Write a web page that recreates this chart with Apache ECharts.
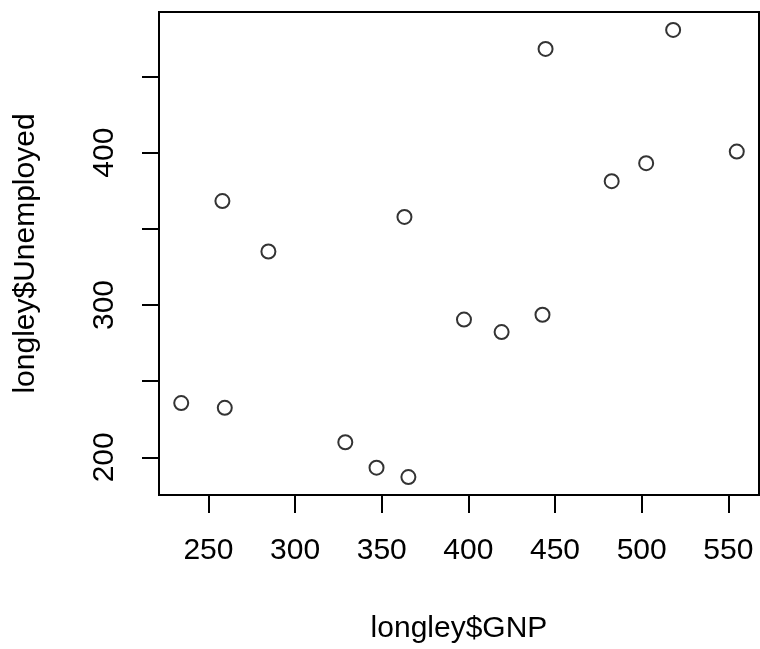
<!DOCTYPE html>
<html>
<head>
<meta charset="utf-8">
<script src="https://cdn.jsdelivr.net/npm/echarts@6/dist/echarts.min.js"></script>
<style>
html,body{margin:0;padding:0;background:#fff;}
#chart{width:760px;height:649px;}
</style>
</head>
<body>
<div id="chart"></div>
<script>
// longley data
var gnp = [234.289, 259.426, 258.054, 284.599, 328.975, 346.999, 365.385, 363.112, 397.469, 419.180, 442.769, 444.546, 482.704, 502.601, 518.173, 554.894];
var unemployed = [235.6, 232.5, 368.2, 335.1, 209.9, 193.2, 187.0, 357.8, 290.4, 282.2, 293.6, 468.1, 381.3, 393.1, 480.6, 400.7];
var xTicks = [250, 300, 350, 400, 450, 500, 550];
var yTicks = [200, 250, 300, 350, 400, 450];
var yTickLabels = [200, 300, 400];
var xTitle = 'longley$GNP';
var yTitle = 'longley$Unemployed';

function pad(arr) {
  var mn = Math.min.apply(null, arr), mx = Math.max.apply(null, arr);
  var d = (mx - mn) * 0.04;
  return [mn - d, mx + d];
}
var xr = pad(gnp), yr = pad(unemployed);
var pts = gnp.map(function (g, i) { return [g, unemployed[i]]; });

var font = "'Liberation Sans', Arial, sans-serif";
var chart = echarts.init(document.getElementById('chart'), null, {renderer: 'canvas'});
chart.setOption({
  animation: false,
  backgroundColor: '#fff',
  grid: {left: 159, right: 1, top: 12, bottom: 154, show: true, borderColor: '#000', borderWidth: 2, backgroundColor: 'transparent'},
  xAxis: {
    type: 'value', min: xr[0], max: xr[1],
    name: xTitle, nameLocation: 'middle', nameGap: 119,
    nameTextStyle: {fontFamily: font, fontSize: 30, color: '#000', lineHeight: 30},
    axisLine: {show: true, onZero: false, lineStyle: {color: '#000', width: 2}},
    axisTick: {show: true, length: 18, lineStyle: {color: '#000', width: 2}, customValues: xTicks},
    axisLabel: {show: true, margin: 41, fontFamily: font, fontSize: 30, color: '#000', lineHeight: 30, customValues: xTicks},
    splitLine: {show: false}
  },
  yAxis: {
    type: 'value', min: yr[0], max: yr[1],
    name: yTitle, nameLocation: 'middle', nameGap: 118,
    nameTextStyle: {fontFamily: font, fontSize: 30, color: '#000', lineHeight: 30},
    axisLine: {show: true, onZero: false, lineStyle: {color: '#000', width: 2}},
    axisTick: {show: true, length: 17, lineStyle: {color: '#000', width: 2}, customValues: yTicks},
    axisLabel: {show: true, rotate: 90, margin: 39, fontFamily: font, fontSize: 30, color: '#000', lineHeight: 30, customValues: yTickLabels},
    splitLine: {show: false}
  },
  series: [{
    type: 'scatter',
    data: pts,
    symbol: 'circle',
    symbolSize: 14,
    itemStyle: {color: 'rgba(0,0,0,0)', borderColor: '#000', borderWidth: 2}
  }]
});
</script>
</body>
</html>
